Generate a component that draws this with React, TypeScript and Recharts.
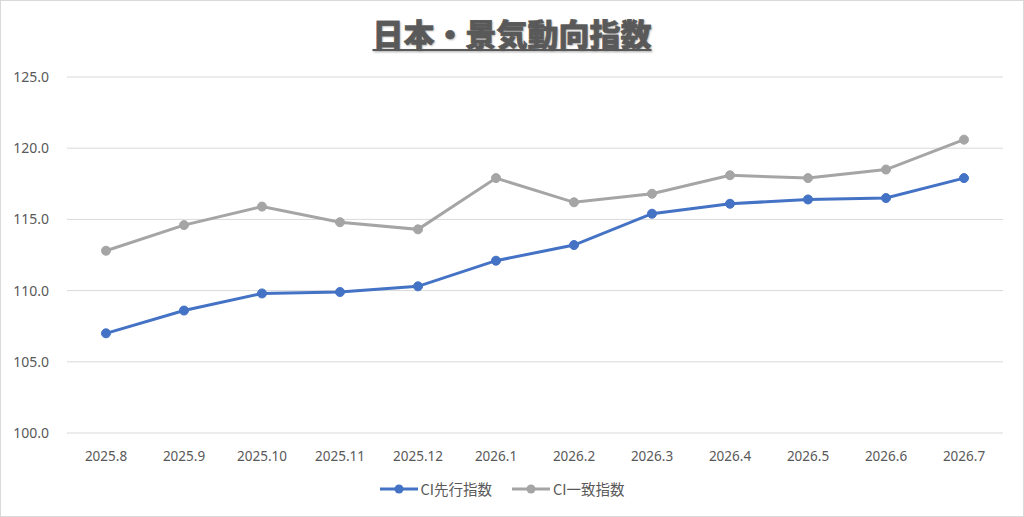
import React from 'react';
import { LineChart, Line, XAxis, YAxis, CartesianGrid, Legend } from 'recharts';

const MONTHS = [
  '2025.8', '2025.9', '2025.10', '2025.11', '2025.12', '2026.1',
  '2026.2', '2026.3', '2026.4', '2026.5', '2026.6', '2026.7',
];
const LEADING = [107.0, 108.6, 109.8, 109.9, 110.3, 112.1, 113.2, 115.4, 116.1, 116.4, 116.5, 117.9];
const COINCIDENT = [112.8, 114.6, 115.9, 114.8, 114.3, 117.9, 116.2, 116.8, 118.1, 117.9, 118.5, 120.6];
const Y_TICKS = [100, 105, 110, 115, 120, 125];

const SERIES = [
  { key: 'leading', name: 'CI先行指数', color: '#4472C4' },
  { key: 'coincident', name: 'CI一致指数', color: '#A5A5A5' },
];

const data = MONTHS.map((m, i) => ({ month: m, leading: LEADING[i], coincident: COINCIDENT[i] }));

const TEXT = '#595959';

const renderLegend = () => (
  <div style={{ display: 'flex', justifyContent: 'center', gap: 20, fontFamily: '"Noto Sans CJK JP", sans-serif', fontSize: 14.5, color: TEXT }}>
    {SERIES.map((s) => (
      <div key={s.key} style={{ display: 'flex', alignItems: 'center', gap: 3 }}>
        <svg width={38} height={12}>
          <line x1={0} y1={6} x2={38} y2={6} stroke={s.color} strokeWidth={3} />
          <circle cx={19} cy={6} r={4.5} fill={s.color} />
        </svg>
        <span>{s.name}</span>
      </div>
    ))}
  </div>
);

export default function App() {
  return (
    <div style={{ position: 'relative', width: 1024, height: 517, boxSizing: 'border-box', border: '1px solid #d9d9d9', background: '#fff' }}>
      <style>{`body{margin:0}`}</style>
      <div
        style={{
          position: 'absolute', top: 12, left: 0, width: '100%', textAlign: 'center',
          fontFamily: '"Noto Sans CJK JP", sans-serif', fontWeight: 900, fontSize: 31, lineHeight: '40px',
          color: TEXT, textDecoration: 'underline', textDecorationThickness: 2, textUnderlineOffset: 3,
          WebkitTextStroke: '0.4px #595959',
          textShadow: '1px 1px 2px rgba(0,0,0,0.35)',
        }}
      >
        日本・景気動向指数
      </div>
      <LineChart width={1022} height={515} data={data} margin={{ top: 76, right: 20, left: 0, bottom: 53 }}>
        <CartesianGrid stroke="#d9d9d9" vertical={false} />
        <XAxis
          dataKey="month"
          padding={{ left: 39, right: 39 }}
          axisLine={false}
          tickLine={false}
          tickMargin={12}
          height={30}
          interval={0}
          tick={{ fill: TEXT, fontSize: 13.5, fontFamily: '"Noto Sans", sans-serif' }}
        />
        <YAxis
          domain={[100, 125]}
          ticks={Y_TICKS}
          width={66}
          axisLine={false}
          tickLine={false}
          tickMargin={12}
          tickFormatter={(v: number) => v.toFixed(1)}
          tick={{ fill: TEXT, fontSize: 14, fontFamily: '"Noto Sans", sans-serif' }}
        />
        <Legend verticalAlign="middle" align="center" layout="horizontal" content={renderLegend} wrapperStyle={{ top: 477 }} />
        {SERIES.map((s) => (
          <Line
            key={s.key}
            dataKey={s.key}
            name={s.name}
            stroke={s.color}
            strokeWidth={3}
            dot={{ r: 4.5, fill: s.color, stroke: s.color, strokeWidth: 1 }}
            isAnimationActive={false}
          />
        ))}
      </LineChart>
    </div>
  );
}
